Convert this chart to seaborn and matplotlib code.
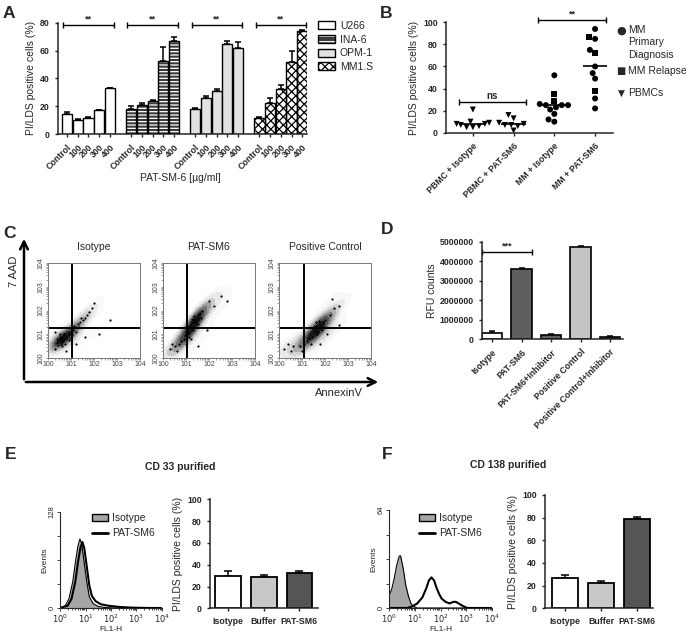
import numpy as np
import pandas as pd
import matplotlib
matplotlib.use("Agg")
import matplotlib.pyplot as plt
import seaborn as sns
from matplotlib.patches import Patch, Rectangle, FancyArrowPatch
from matplotlib.lines import Line2D
from matplotlib.markers import MarkerStyle

# -------------------- DATA --------------------
# A: cell death of MM cell lines vs PAT-SM6 dose
A_LINES = ["U266", "INA-6", "OPM-1", "MM1.S"]
A_DOSES = ["Control", "100", "200", "300", "400"]
A_U266 = [14.5, 10.0, 11.5, 17.0, 33.0]
A_U266_ERR = [1.0, 0.5, 0.5, 0.5, 0.3]
A_INA6 = [18.0, 20.5, 24.0, 52.5, 66.5]
A_INA6_ERR = [2.0, 1.5, 0.7, 10.0, 3.5]
A_OPM1 = [18.0, 26.0, 31.0, 64.5, 62.0]
A_OPM1_ERR = [0.7, 1.0, 1.5, 2.5, 4.0]
A_MM1S = [11.5, 22.5, 32.0, 51.5, 74.0]
A_MM1S_ERR = [0.7, 3.5, 3.0, 8.5, 0.5]

# B: primary cells
B_GROUPS = ["PBMC + Isotype", "PBMC + PAT-SM6", "MM + Isotype", "MM + PAT-SM6"]
B_PBMC_ISO = [21, 10, 9, 8, 8, 7, 6, 5, 5]
B_PBMC_PAT = [16, 13, 9, 8, 7, 7, 6, 2]
B_MM_ISO_PRIMARY = [52, 26, 25, 25, 23, 21, 17, 12, 10, 25]
B_MM_ISO_RELAPSE = [35, 29]
B_MM_PAT_PRIMARY = [94, 85, 75, 60, 54, 49, 31, 22]
B_MM_PAT_RELAPSE = [87, 72, 38]

# C: flow cytometry dots (log10 AnnexinV, log10 7AAD)
C_TITLES = ["Isotype", "PAT-SM6", "Positive Control"]
C_ISO_X = [0.45, 0.5, 0.55, 0.6, 0.62, 0.65, 0.7, 0.55, 0.4, 0.68, 0.58, 0.63, 0.52, 0.6,
           0.35, 0.75, 0.5, 0.7, 0.45, 0.62,
           0.8, 0.9, 1.0, 1.1, 1.2, 1.3, 1.4, 1.5, 1.6, 1.7, 1.8, 1.9, 2.0, 1.05, 1.2, 1.35,
           1.15, 1.45, 0.9, 1.0, 0.3, 0.8, 1.6, 2.7, 0.3, 1.2, 2.2]
C_ISO_Y = [0.7, 0.85, 0.75, 0.8, 0.9, 0.7, 0.8, 0.6, 0.8, 0.95, 0.72, 0.82, 0.78, 0.68,
           0.65, 0.6, 1.0, 1.0, 0.55, 0.5,
           0.9, 1.0, 1.1, 1.2, 1.3, 1.45, 1.5, 1.6, 1.7, 1.8, 1.95, 2.1, 2.3, 0.95, 1.1, 1.3,
           1.35, 1.7, 0.75, 0.85, 0.4, 0.3, 0.9, 1.6, 1.1, 0.6, 1.0]
C_PAT_X = [1.2, 1.3, 1.4, 1.5, 1.35, 1.45, 1.55, 1.25, 1.6, 1.4, 1.5, 1.3, 1.7, 1.65,
           1.1, 1.0, 0.9, 0.8, 0.7, 0.5, 0.3, 0.6, 1.0, 1.15, 0.4, 1.2,
           2.2, 2.5, 1.9, 2.0, 2.8, 1.5]
C_PAT_Y = [1.4, 1.5, 1.6, 1.7, 1.75, 1.5, 1.85, 1.65, 1.9, 1.3, 1.45, 1.2, 2.0, 1.7,
           1.1, 1.0, 0.8, 0.7, 0.6, 0.5, 0.4, 0.3, 0.6, 0.9, 0.6, 0.8,
           2.2, 2.6, 1.2, 2.4, 2.4, 0.5]
C_POS_X = [1.5, 1.6, 1.7, 1.8, 1.9, 1.65, 1.85, 1.55, 1.75, 2.0, 1.45, 1.7, 1.95, 1.6,
           1.3, 1.2, 1.1, 0.9, 0.6, 0.4, 0.5, 1.0, 1.4, 2.1, 2.2, 2.4, 2.6,
           2.3, 0.2, 1.8, 2.6]
C_POS_Y = [1.1, 1.2, 1.3, 1.4, 1.5, 1.0, 1.2, 1.35, 1.55, 1.6, 0.9, 1.1, 1.3, 1.5,
           0.8, 0.7, 0.6, 0.5, 0.5, 0.6, 0.3, 0.3, 0.6, 1.0, 1.8, 2.1, 2.2,
           2.5, 0.4, 0.6, 1.4]
C_GATE_X = [1.04, 1.03, 1.09]
C_GATE_Y = 1.25

# D: caspase activity
D_CATS = ["Isotype", "PAT-SM6", "PAT-SM6+Inhibitor", "Positive Control",
          "Positive Control+Inhibitor"]
D_VALS = [320000, 3600000, 200000, 4720000, 120000]
D_ERR = [80000, 60000, 50000, 80000, 70000]

# E / F: histograms (log10 FL1-H, events) and bar charts
EF_CATS = ["Isotype", "Buffer", "PAT-SM6"]
E_ISO_X = [0.0, 0.2, 0.35, 0.5, 0.6, 0.7, 0.78, 0.85, 0.95, 1.05, 1.15, 1.3, 1.5, 1.8, 2.2, 4.0]
E_ISO_Y = [0, 3, 12, 35, 60, 82, 92, 86, 60, 35, 15, 6, 2, 0.5, 0, 0]
E_PAT_X = [0.0, 0.3, 0.45, 0.6, 0.7, 0.8, 0.88, 0.95, 1.05, 1.15, 1.25, 1.4, 1.6, 1.9,
           2.3, 2.8, 3.5, 4.0]
E_PAT_Y = [0, 3, 12, 35, 60, 80, 88, 80, 55, 30, 16, 9, 5, 3, 1.5, 0.5, 0, 0]
E_VALS = [30, 29, 32]
E_ERR = [4, 2, 2.5]
F_ISO_X = [0.0, 0.1, 0.2, 0.3, 0.4, 0.45, 0.55, 0.65, 0.75, 0.85, 0.95, 1.1, 4.0]
F_ISO_Y = [8, 12, 19, 28, 34, 34, 26, 15, 8, 3, 1, 0, 0]
F_PAT_X = [0.0, 0.7, 0.9, 1.1, 1.3, 1.45, 1.55, 1.65, 1.75, 1.85, 1.95, 2.05, 2.2, 2.35,
           2.5, 2.6, 2.75, 2.9, 3.05, 4.0]
F_PAT_Y = [0, 0, 1, 3, 7, 13, 18, 20, 18, 13, 9, 6, 4, 3, 4, 4, 2.5, 1, 0, 0]
F_VALS = [27, 22, 78.5]
F_ERR = [2.5, 2.0, 2.0]

# -------------------- STYLE --------------------
sns.set_style("ticks")
plt.rcParams["font.family"] = ["Liberation Sans", "DejaVu Sans"]
plt.rcParams["axes.linewidth"] = 1.1
plt.rcParams["xtick.major.width"] = 1.0
plt.rcParams["ytick.major.width"] = 1.0
plt.rcParams["xtick.major.size"] = 2.5
plt.rcParams["ytick.major.size"] = 2.5
plt.rcParams["hatch.linewidth"] = 0.9

W, H = 686, 632
fig = plt.figure(figsize=(W / 100, H / 100), dpi=100)


def px_ax(l, t, r, b):
    return fig.add_axes([l / W, 1 - b / H, (r - l) / W, (b - t) / H])


def ftxt(x, y, s, **kw):
    return fig.text(x / W, 1 - y / H, s, **kw)


def bold_ticks(ax, size=6.5):
    for lab in ax.get_xticklabels() + ax.get_yticklabels():
        lab.set_fontweight("bold")
        lab.set_fontsize(size)


def up_errors(ax, x, y, err, cap=2.5):
    ax.errorbar(x, y, yerr=[np.zeros(len(err)), err], fmt="none", ecolor="black",
                elinewidth=1.1, capsize=cap, capthick=1.1, zorder=1)


def sig_bar(ax, x0, x1, y, label, dy, fs=6.5):
    ax.plot([x0, x1], [y, y], color="black", lw=1, marker="|", ms=5, mew=1, clip_on=False)
    ax.text((x0 + x1) / 2, y + dy, label, ha="center", va="bottom", fontsize=fs,
            fontweight="bold", clip_on=False)


# panel letters
for letter, x, y in [("A", 3, 18), ("B", 380, 18), ("C", 3, 238), ("D", 381, 234),
                     ("E", 5, 459), ("F", 382, 459)]:
    ftxt(x, y, letter, fontsize=12.5, fontweight="bold", va="baseline")

# -------------------- A --------------------
axA = px_ax(58, 22.7, 307, 134)
rows = []
a_sets = [(A_U266, A_U266_ERR), (A_INA6, A_INA6_ERR), (A_OPM1, A_OPM1_ERR), (A_MM1S, A_MM1S_ERR)]
for g, (vals, errs) in enumerate(a_sets):
    for i, (v, e) in enumerate(zip(vals, errs)):
        rows.append(dict(pos=g * 6 + i, val=v, err=e, line=A_LINES[g], dose=A_DOSES[i]))
dfA = pd.DataFrame(rows)

up_errors(axA, dfA["pos"], dfA["val"], dfA["err"], cap=2)
sns.barplot(data=dfA, x="pos", y="val", native_scale=True, width=0.95, color="white",
            edgecolor="black", linewidth=1, errorbar=None, ax=axA, zorder=2)
a_face = ["white", "#3a3a3a", "#e2e2e2", "white"]
a_hatch = [None, "-----", None, "xxxx"]
a_hcol = ["black", "white", "black", "black"]
for k, patch in enumerate(list(axA.patches)):
    g = k // 5
    patch.set_facecolor(a_face[g])
    if a_hatch[g]:
        patch.set_hatch(a_hatch[g])
        patch.set_edgecolor(a_hcol[g])
        patch.set_linewidth(0)
        axA.add_patch(Rectangle(patch.get_xy(), patch.get_width(), patch.get_height(),
                                fill=False, edgecolor="black", lw=1, zorder=3))
for g in range(4):
    sig_bar(axA, g * 6 - 0.35, g * 6 + 4.35, 78.6, "**", 1.0)
axA.set_xlim(-0.85, 22.45)
axA.set_ylim(0, 80)
axA.set_yticks([0, 20, 40, 60, 80])
axA.set_xticks(dfA["pos"])
axA.set_xticklabels(dfA["dose"], rotation=45, ha="right", va="top", rotation_mode="anchor")
axA.set_xlabel("")
axA.set_ylabel("PI/LDS positive cells (%)", fontsize=7.5, labelpad=3)
bold_ticks(axA, 6.3)
sns.despine(ax=axA)
ftxt(180, 181, "PAT-SM-6 [µg/ml]", fontsize=7.5, ha="center")

a_handles = [
    Patch(facecolor="white", edgecolor="black", lw=1),
    (Patch(facecolor="#3a3a3a", edgecolor="white", hatch="---", lw=0),
     Patch(fill=False, edgecolor="black", lw=1)),
    Patch(facecolor="#e2e2e2", edgecolor="black", lw=1),
    Patch(facecolor="white", edgecolor="black", hatch="xxxx", lw=1),
]
fig.legend(a_handles, A_LINES, loc="upper left", bbox_to_anchor=(318 / W, 1 - 21 / H),
           frameon=False, fontsize=7.5, handlelength=1.6, handleheight=0.8,
           labelspacing=0.35, handletextpad=0.5, borderpad=0, borderaxespad=0)

# -------------------- B --------------------
axB = px_ax(446, 22.3, 613, 132.7)
b_rows = []
for grp, vals, kind in [(B_GROUPS[0], B_PBMC_ISO, "v"), (B_GROUPS[1], B_PBMC_PAT, "v"),
                        (B_GROUPS[2], B_MM_ISO_PRIMARY, "o"), (B_GROUPS[2], B_MM_ISO_RELAPSE, "s"),
                        (B_GROUPS[3], B_MM_PAT_PRIMARY, "o"), (B_GROUPS[3], B_MM_PAT_RELAPSE, "s")]:
    for v in vals:
        b_rows.append(dict(group=grp, value=v, kind=kind))
dfB = pd.DataFrame(b_rows)
sns.swarmplot(data=dfB, x="group", y="value", order=B_GROUPS, color="black", size=4.3,
              linewidth=0, ax=axB)


def marker_path(m):
    ms = MarkerStyle(m)
    return ms.get_path().transformed(ms.get_transform())


for coll, grp in zip(axB.collections, B_GROUPS):
    kinds = dfB.loc[dfB["group"] == grp, "kind"].tolist()
    coll.set_paths([marker_path(k) for k in kinds])

for i, grp in enumerate(B_GROUPS):
    med = dfB.loc[dfB["group"] == grp, "value"].median()
    axB.hlines(med, i - 0.3, i + 0.3, color="black", lw=1.2, zorder=5)
sig_bar(axB, -0.34, 1.3, 28, "ns", 1.0, fs=7)
sig_bar(axB, 1.6, 3.28, 102, "**", 1.0)
axB.set_xlim(-0.66, 3.44)
axB.set_ylim(0, 100)
axB.set_yticks([0, 20, 40, 60, 80, 100])
axB.set_xticks(range(4))
axB.set_xticklabels(B_GROUPS, rotation=45, ha="right", va="top", rotation_mode="anchor")
axB.set_xlabel("")
axB.set_ylabel("PI/LDS positive cells (%)", fontsize=7.5, labelpad=3)
bold_ticks(axB, 6.3)
sns.despine(ax=axB)
ftxt(621, 31, "●", fontsize=8, family=["DejaVu Sans"], va="center", ha="center")
ftxt(628, 25, "MM\nPrimary\nDiagnosis", fontsize=7.5, va="top", ha="left", linespacing=1.3)
ftxt(621, 71, "■", fontsize=7, family=["DejaVu Sans"], va="center", ha="center")
ftxt(628, 71, "MM Relapse", fontsize=7.5, va="center", ha="left")
ftxt(621, 93, "▼", fontsize=6.5, family=["DejaVu Sans"], va="center", ha="center")
ftxt(628, 93, "PBMCs", fontsize=7.5, va="center", ha="left")

# -------------------- C --------------------
c_boxes = [(48, 263, 140, 358), (163, 263, 255, 358), (279, 263, 371, 358)]
c_data = [(C_ISO_X, C_ISO_Y), (C_PAT_X, C_PAT_Y), (C_POS_X, C_POS_Y)]
dec_labels = ["100", "101", "102", "103", "104"]
minor = [k + np.log10(m) for k in range(4) for m in range(2, 10)]
for box, (xs, ys), title, gx in zip(c_boxes, c_data, C_TITLES, C_GATE_X):
    ax = px_ax(*box)
    sns.kdeplot(x=xs, y=ys, fill=True, cmap="Greys", levels=8, thresh=0.08, bw_adjust=1.25,
                ax=ax)
    sns.scatterplot(x=xs, y=ys, s=2.5, color="black", linewidth=0, ax=ax)
    ax.axvline(gx, color="black", lw=1.4)
    ax.axhline(C_GATE_Y, color="black", lw=1.4)
    ax.set_xlim(0, 4)
    ax.set_ylim(0, 4)
    ax.set_xticks(range(5))
    ax.set_yticks(range(5))
    ax.set_xticks(minor, minor=True)
    ax.set_yticks(minor, minor=True)
    ax.set_xticklabels(dec_labels, fontsize=5, color="#444444")
    ax.set_yticklabels(dec_labels, fontsize=5, color="#444444", rotation=90, va="center")
    ax.tick_params(which="both", length=1.5, width=0.5, color="#777777", pad=1)
    for sp in ax.spines.values():
        sp.set_linewidth(0.7)
        sp.set_color("#777777")
    ax.set_xlabel("")
    ax.set_ylabel("")
    ax.set_title(title, fontsize=7.5, pad=9)

fig.add_artist(FancyArrowPatch((24 / W, 1 - 382 / H), (24 / W, 1 - 236 / H),
                               transform=fig.transFigure, arrowstyle="->", mutation_scale=14,
                               lw=1.8, color="black"))
fig.add_artist(FancyArrowPatch((23 / W, 1 - 382 / H), (381 / W, 1 - 382 / H),
                               transform=fig.transFigure, arrowstyle="->", mutation_scale=14,
                               lw=1.8, color="black"))
ftxt(14, 271, "7 AAD", fontsize=8, rotation=90, ha="center", va="center")
ftxt(363, 393, "AnnexinV", fontsize=8, ha="right", va="center")

# -------------------- D --------------------
axD = px_ax(482, 241.7, 623, 339.3)
d_colors = ["white", "#5f5f5f", "#5f5f5f", "#c4c4c4", "#5f5f5f"]
up_errors(axD, range(5), D_VALS, D_ERR, cap=2.5)
sns.barplot(x=D_CATS, y=D_VALS, hue=D_CATS, palette=d_colors, legend=False, saturation=1,
            width=0.68, edgecolor="black", linewidth=1.2, errorbar=None, ax=axD, zorder=2)
sig_bar(axD, -0.34, 1.34, 4490000, "***", 50000)
axD.set_xlim(-0.34, 4.44)
axD.set_ylim(0, 5000000)
axD.set_yticks(range(0, 5000001, 1000000))
axD.set_yticklabels([str(v) for v in range(0, 5000001, 1000000)])
axD.set_xticks(range(5))
axD.set_xticklabels(D_CATS, rotation=45, ha="right", va="top", rotation_mode="anchor")
axD.set_ylabel("RFU counts", fontsize=7.5, labelpad=2)
bold_ticks(axD, 6.3)
sns.despine(ax=axD)


# -------------------- E / F --------------------
def hist_panel(box, iso_x, iso_y, pat_x, pat_y, ymax, leg_xy):
    ax = px_ax(*box)
    ax.fill_between(iso_x, iso_y, color="#a6a6a6", lw=0)
    sns.lineplot(x=iso_x, y=iso_y, color="black", lw=0.8, ax=ax)
    sns.lineplot(x=pat_x, y=pat_y, color="black", lw=1.5, ax=ax)
    ax.set_xlim(0, 4)
    ax.set_ylim(0, ymax)
    ax.set_xticks(range(5))
    ax.set_xticklabels([r"$10^{%d}$" % k for k in range(5)], fontsize=6)
    ax.set_xticks(minor, minor=True)
    ax.set_yticks([0, ymax])
    ax.set_yticks([ymax / 4, ymax / 2, 3 * ymax / 4], minor=True)
    ax.set_yticklabels(["0", str(ymax)], fontsize=5.5, rotation=90, va="center")
    ax.tick_params(which="both", length=2, width=0.6, pad=1)
    ax.tick_params(axis="x", which="minor", length=1.2)
    for sp in ax.spines.values():
        sp.set_linewidth(0.8)
    sns.despine(ax=ax)
    ax.set_xlabel("FL1-H", fontsize=6, labelpad=1)
    ax.set_ylabel("Events", fontsize=6, labelpad=0)
    handles = [Patch(facecolor="#a6a6a6", edgecolor="black", lw=1),
               Line2D([0], [0], color="black", lw=2)]
    fig.legend(handles, ["Isotype", "PAT-SM6"], loc="upper left",
               bbox_to_anchor=(leg_xy[0] / W, 1 - leg_xy[1] / H), frameon=False,
               fontsize=7.5, handlelength=1.5, handleheight=0.6, labelspacing=0.5,
               handletextpad=0.4, borderpad=0, borderaxespad=0)


def bar_panel(box, vals, errs, xlim):
    ax = px_ax(*box)
    up_errors(ax, range(3), vals, errs, cap=3)
    sns.barplot(x=EF_CATS, y=vals, hue=EF_CATS, palette=["white", "#c8c8c8", "#555555"],
                legend=False, saturation=1, width=0.72, edgecolor="black", linewidth=1.3,
                errorbar=None, ax=ax, zorder=2)
    ax.set_xlim(*xlim)
    ax.set_ylim(0, 100)
    ax.set_yticks([0, 20, 40, 60, 80, 100])
    ax.set_ylabel("PI/LDS positive cells (%)", fontsize=7.5, labelpad=3)
    bold_ticks(ax, 6.3)
    sns.despine(ax=ax)


ftxt(180, 470, "CD 33 purified", fontsize=7.5, fontweight="bold", ha="center")
ftxt(508, 468, "CD 138 purified", fontsize=7.5, fontweight="bold", ha="center")
hist_panel((60, 512, 162, 608), E_ISO_X, E_ISO_Y, E_PAT_X, E_PAT_Y, 128, (92, 513))
hist_panel((389, 510, 492, 608), F_ISO_X, F_ISO_Y, F_PAT_X, F_PAT_Y, 64, (419, 513))
bar_panel((210, 499.3, 318, 608.3), E_VALS, E_ERR, (-0.5, 2.52))
bar_panel((545, 495, 653, 608.3), F_VALS, F_ERR, (-0.55, 2.44))

fig.savefig("out.png", dpi=100)
